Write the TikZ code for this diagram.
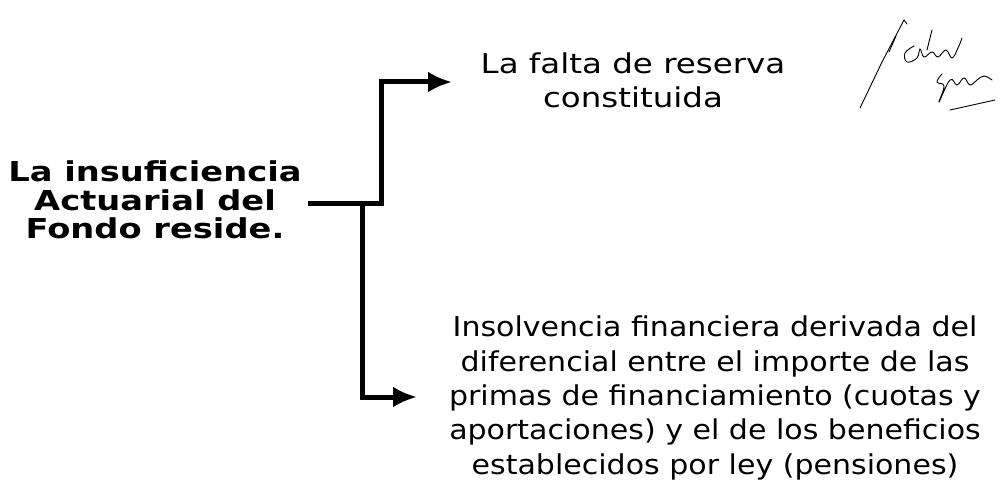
\documentclass[tikz,border=0pt]{standalone}
\usepackage{fontspec}
\setmainfont{DejaVu Sans}
\newfontfamily\letraancha{DejaVu Sans}[FakeStretch=1.10]
\newfontfamily\letraalta{DejaVu Sans}[FakeStretch=1.19]
\newfontfamily\letratitulo{DejaVu Sans}[FakeStretch=1.23]
\usetikzlibrary{arrows.meta}

\begin{document}
\begin{tikzpicture}[x=1pt,y=-1pt,
	titulo/.style={font=\letratitulo\bfseries\fontsize{27.4}{28.5}\selectfont, align=center, inner sep=0pt},
	rama/.style={font=\letraancha\fontsize{27.3}{34.3}\selectfont, align=center, inner sep=0pt},
	flecha/.style={line width=5pt, -{Latex[length=24pt,width=21pt]}},
	trazo/.style={line width=5pt},
	firma/.style={line width=0.9pt, line cap=round}]
	% page size
	\useasboundingbox[fill=white] (0,0) rectangle (1003,489);

	% Draw texts
	\node[titulo] (causa) at (155,200) {La insuficiencia\\Actuarial del\\Fondo reside.};
	\node[rama, font=\letraalta\fontsize{27.3}{34.3}\selectfont] (falta) at (633,80) {La falta de reserva\\constituida};
	\node[rama] (insolvencia) at (715,398) {Insolvencia financiera derivada del\\diferencial entre el importe de las\\primas de financiamiento (cuotas y\\aportaciones) y el de los beneficios\\establecidos por ley (pensiones)};

	% Points of the bracket
	\coordinate (inicio) at (308,203);
	\coordinate (codo) at (381,203);
	\coordinate (alto) at (381,82);
	\coordinate (punta1) at (452,82);
	\coordinate (rama2) at (362,203);
	\coordinate (bajo) at (362,397);
	\coordinate (punta2) at (417,397);

	% Draw bracket
	\draw[trazo, line join=miter] (inicio) -- (codo) -- (alto);
	\draw[flecha] ([xshift=-2.5pt]alto) -- (punta1);
	\draw[trazo] (rama2) -- (bajo);
	\draw[flecha] ([xshift=-2.5pt]bajo) -- (punta2);

	% Signature
	\draw[firma] (860,108) -- (882,62) -- (904,20) -- (907,24);
	\draw[firma] (889,52) -- (896,36);
	\draw[firma] plot[smooth, tension=.7] coordinates {(914,46) (905,53) (907,62) (917,58) (920,49) (924,57) (932,52) (938,57) (946,50) (952,58) (958,48) (962,38)};
	\draw[firma] (932,30) -- (927,50);
	\draw[firma] plot[smooth, tension=.7] coordinates {(942,74) (937,82) (944,86) (939,102) (950,80) (957,85) (964,78) (970,85) (977,80) (984,76) (992,80)};
	\draw[firma] (950,110) -- (995,100);
\end{tikzpicture}
\end{document}
